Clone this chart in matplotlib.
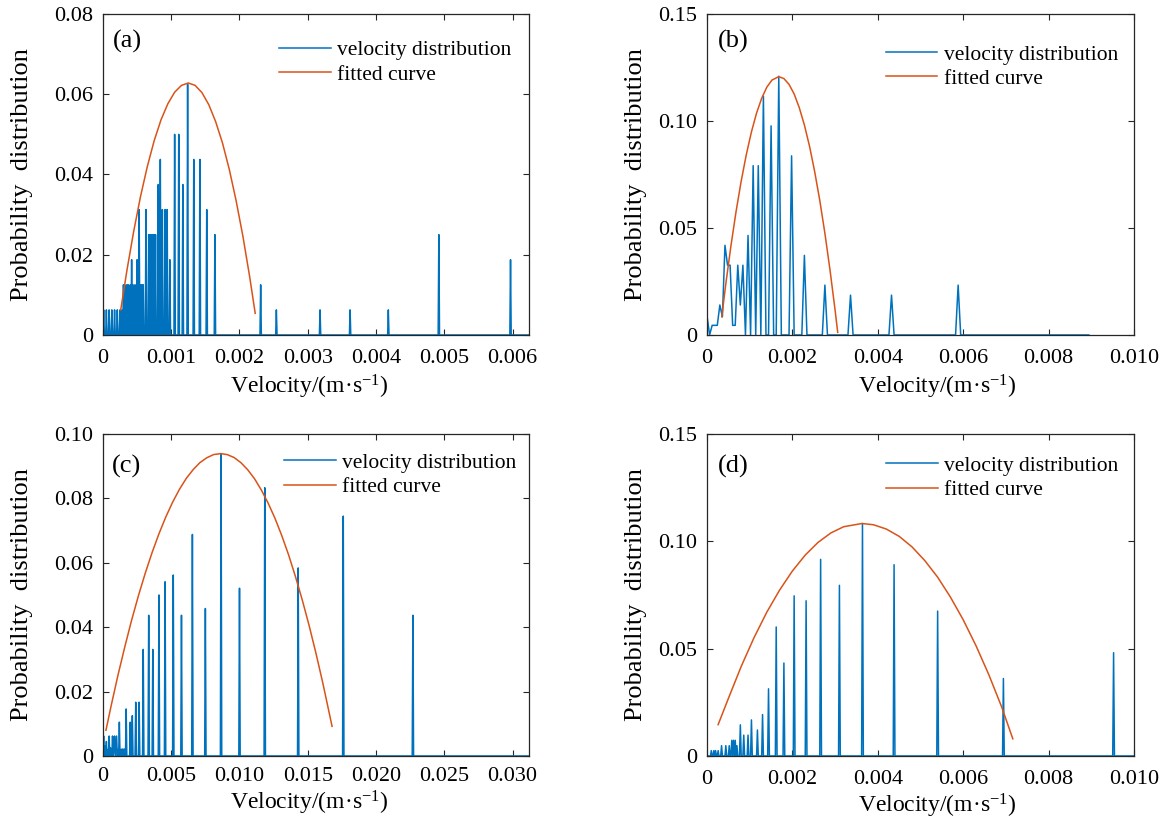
import numpy as np
import matplotlib
matplotlib.use('Agg')
import matplotlib.pyplot as plt

plt.rcParams['font.family'] = ['Liberation Serif', 'DejaVu Serif']
plt.rcParams['mathtext.fontset'] = 'custom'
plt.rcParams['mathtext.rm'] = 'Liberation Serif'
plt.rcParams['mathtext.it'] = 'Liberation Serif:italic'

BLUE = '#0072BD'
ORANGE = '#D95319'
AXC = '#262626'

# ---- panel (a) ----
vel_a = [0.00001, 0.00005, 0.00009, 0.00013, 0.00017, 0.00021, 0.00025, 0.00028,
         0.00030, 0.00032, 0.00035, 0.00037, 0.00040, 0.00042, 0.00044, 0.00047,
         0.00050, 0.00053, 0.00055, 0.00057, 0.00059, 0.00063, 0.00067, 0.00069,
         0.00071, 0.00073, 0.00075, 0.00077, 0.00081, 0.00084, 0.00087, 0.00091,
         0.00094, 0.00098, 0.00105, 0.00111, 0.00117, 0.00124, 0.00133, 0.00142,
         0.00152, 0.00164, 0.00231, 0.00254, 0.00318, 0.00362, 0.00418, 0.00492,
         0.00597]
prob_a = [0.00625, 0.00625, 0.00625, 0.00625, 0.00625, 0.00625, 0.00625, 0.00625,
          0.0125, 0.0125, 0.0125, 0.0125, 0.0125, 0.01875, 0.0125, 0.0125,
          0.01875, 0.03125, 0.0125, 0.0125, 0.0125, 0.03125, 0.025, 0.025,
          0.025, 0.025, 0.025, 0.025, 0.0375, 0.04375, 0.03125, 0.03125,
          0.03125, 0.01875, 0.05, 0.05, 0.0375, 0.0625, 0.04375, 0.04375,
          0.03125, 0.025, 0.0125, 0.00625, 0.00625, 0.00625, 0.00625, 0.025,
          0.01875]
fit_v_a = [0.00026, 0.00035, 0.00045, 0.00055, 0.00065, 0.00075, 0.00085, 0.00095,
           0.00105, 0.00115, 0.00125, 0.00135, 0.00145, 0.00155, 0.00165, 0.00175,
           0.00185, 0.00195, 0.00205, 0.00215, 0.00223]
fit_p_a = [0.0062, 0.0160, 0.0258, 0.0345, 0.0420, 0.0484, 0.0536, 0.0576,
           0.0605, 0.0622, 0.0628, 0.0622, 0.0604, 0.0574, 0.0532, 0.0479,
           0.0413, 0.0335, 0.0246, 0.0144, 0.0054]

# ---- panel (b) ----
vel_b = [0.0, 0.00012, 0.00018, 0.00024, 0.00030, 0.00036, 0.00042, 0.00048,
         0.00054, 0.00060, 0.00066, 0.00072, 0.00078, 0.00084, 0.00096, 0.00108,
         0.00120, 0.00132, 0.00150, 0.00168, 0.00198, 0.00228, 0.00276, 0.00336,
         0.00432, 0.00588]
prob_b = [0.0089, 0.0045, 0.0045, 0.0045, 0.0140, 0.0085, 0.0419, 0.0326,
          0.0326, 0.0045, 0.0045, 0.0326, 0.0140, 0.0326, 0.0465, 0.0791,
          0.0791, 0.1116, 0.0977, 0.1209, 0.0837, 0.0372, 0.0233, 0.0186,
          0.0186, 0.0233]
fit_v_b = [0.000345, 0.00044, 0.00056, 0.00068, 0.0008, 0.00092, 0.00104, 0.00116,
           0.00128, 0.0014, 0.00152, 0.00168, 0.0018, 0.00192, 0.00204, 0.00216,
           0.00228, 0.0024, 0.00252, 0.00264, 0.00276, 0.00288, 0.003, 0.00306]
fit_p_b = [0.0085, 0.0239, 0.0417, 0.0577, 0.0719, 0.0843, 0.0949, 0.1037,
           0.1106, 0.1158, 0.1191, 0.1207, 0.1198, 0.1171, 0.1126, 0.1062,
           0.0981, 0.0882, 0.0764, 0.0629, 0.0475, 0.0303, 0.0114, 0.0012]

# ---- panel (c) ----
vel_c = [0.00005, 0.00015, 0.00025, 0.00035, 0.00045, 0.00055, 0.00070, 0.00080,
         0.00085, 0.00095, 0.00100, 0.00110, 0.00120, 0.00130, 0.00140, 0.00150,
         0.00155, 0.00170, 0.00200, 0.00215, 0.00240, 0.00265, 0.00295, 0.00335,
         0.00365, 0.00410, 0.00455, 0.00515, 0.00575, 0.00655, 0.00750, 0.00865,
         0.01000, 0.01185, 0.01430, 0.01760, 0.02270]
prob_c = [0.0062, 0.0030, 0.0045, 0.0020, 0.0062, 0.0025, 0.0062, 0.0020,
          0.0062, 0.0030, 0.0062, 0.0020, 0.0105, 0.0020, 0.0022, 0.0018,
          0.0022, 0.0146, 0.0105, 0.0125, 0.0167, 0.0167, 0.0331, 0.0437,
          0.0331, 0.0500, 0.0541, 0.0562, 0.0437, 0.0688, 0.0458, 0.0939,
          0.0521, 0.0833, 0.0584, 0.0745, 0.0437]
fit_v_c = [0.00022, 0.0006, 0.0011, 0.0016, 0.0021, 0.0026, 0.0031, 0.0036,
           0.0041, 0.0046, 0.0051, 0.0056, 0.0061, 0.0066, 0.0071, 0.0076,
           0.0081, 0.00862, 0.0091, 0.0096, 0.0101, 0.0106, 0.0111, 0.0116,
           0.0121, 0.0126, 0.0131, 0.0136, 0.0141, 0.0146, 0.0151, 0.0156,
           0.0161, 0.01678]
fit_p_c = [0.0080, 0.0156, 0.0251, 0.0339, 0.0422, 0.0498, 0.0568, 0.0632,
           0.0690, 0.0742, 0.0788, 0.0828, 0.0862, 0.0889, 0.0911, 0.0926,
           0.0936, 0.0939, 0.0936, 0.0927, 0.0911, 0.0889, 0.0861, 0.0826,
           0.0785, 0.0738, 0.0684, 0.0624, 0.0557, 0.0484, 0.0405, 0.0319,
           0.0227, 0.0092]

# ---- panel (d) ----
vel_d = [0.00010, 0.00016, 0.00020, 0.00026, 0.00034, 0.00044, 0.00052, 0.00058,
         0.00062, 0.00066, 0.00070, 0.00078, 0.00086, 0.00096, 0.00104, 0.00118,
         0.00130, 0.00144, 0.00162, 0.00180, 0.00204, 0.00232, 0.00266, 0.00310,
         0.00364, 0.00438, 0.00540, 0.00694, 0.00952]
prob_d = [0.0025, 0.0025, 0.0025, 0.0025, 0.0048, 0.0048, 0.0048, 0.0073,
          0.0073, 0.0073, 0.0048, 0.0145, 0.0097, 0.0097, 0.0168, 0.0121,
          0.0193, 0.0313, 0.0601, 0.0433, 0.0746, 0.0723, 0.0916, 0.0795,
          0.1083, 0.0891, 0.0675, 0.0361, 0.0481]
fit_v_d = [0.00026, 0.0005, 0.0008, 0.0011, 0.0014, 0.0017, 0.002, 0.0023,
           0.0026, 0.0029, 0.0032, 0.00363, 0.0039, 0.0042, 0.0045, 0.0048,
           0.0051, 0.0054, 0.0057, 0.006, 0.0063, 0.0066, 0.0069, 0.00716]
fit_p_d = [0.0146, 0.0268, 0.0417, 0.0551, 0.0670, 0.0773, 0.0862, 0.0936,
           0.0995, 0.1039, 0.1068, 0.1083, 0.1077, 0.1057, 0.1023, 0.0974,
           0.0910, 0.0833, 0.0740, 0.0634, 0.0513, 0.0378, 0.0228, 0.0080]

xt_a = [0, 0.001, 0.002, 0.003, 0.004, 0.005, 0.006]
xl_a = ['0', '0.001', '0.002', '0.003', '0.004', '0.005', '0.006']
yt_a = [0, 0.02, 0.04, 0.06, 0.08]
yl_a = ['0', '0.02', '0.04', '0.06', '0.08']
xt_b = [0, 0.002, 0.004, 0.006, 0.008, 0.010]
xl_b = ['0', '0.002', '0.004', '0.006', '0.008', '0.010']
yt_b = [0, 0.05, 0.10, 0.15]
yl_b = ['0', '0.05', '0.10', '0.15']
xt_c = [0, 0.005, 0.010, 0.015, 0.020, 0.025, 0.030]
xl_c = ['0', '0.005', '0.010', '0.015', '0.020', '0.025', '0.030']
yt_c = [0, 0.02, 0.04, 0.06, 0.08, 0.10]
yl_c = ['0', '0.02', '0.04', '0.06', '0.08', '0.10']


def spikes(vel, prob, bw, vmax):
    # probability per velocity bin, zero where nothing was counted
    n = int(round(vmax / bw)) + 1
    grid = np.arange(n) * bw
    hist = np.zeros(n)
    hist[np.rint(np.array(vel) / bw).astype(int)] = prob
    return grid, hist


def panel(ax, grid, hist, fv, fp, xlim, xt, xl, ylim, yt, yl, tag,
          leg_xy, tag_xy, ylab_x, xlab_xy, xpad=10):
    ax.plot(grid, hist, color=BLUE, lw=1.1, label='velocity distribution')
    ax.plot(fv, fp, color=ORANGE, lw=1.1, label='fitted curve')
    ax.set_xlim(*xlim)
    ax.set_ylim(*ylim)
    ax.set_xticks(xt, xl)
    ax.set_yticks(yt, yl)
    ax.tick_params(direction='in', top=True, right=True, length=4, width=0.8,
                   labelsize=16, color=AXC)
    ax.tick_params(axis='x', pad=xpad)
    ax.tick_params(axis='y', pad=7)
    for s in ax.spines.values():
        s.set_color(AXC)
        s.set_linewidth(0.9)
    ax.set_ylabel('Probability  distribution', fontsize=19)
    ax.yaxis.set_label_coords(ylab_x, 0.5)
    ax.set_xlabel('Velocity/(m·s$^{-1}$)', fontsize=17)
    ax.xaxis.set_label_coords(*xlab_xy)
    ax.legend(loc='upper left', bbox_to_anchor=leg_xy, frameon=False,
              fontsize=15.5, handlelength=2.4, handletextpad=0.3,
              labelspacing=0.2, borderpad=0, borderaxespad=0)
    ax.text(tag_xy[0], tag_xy[1], tag, transform=ax.transAxes,
            fontsize=19, ha='left', va='center')


fig = plt.figure(figsize=(11.7, 8.21), dpi=100)
ax_a = fig.add_axes([0.0880, 0.5920, 0.3641, 0.3910])
ax_b = fig.add_axes([0.6043, 0.5920, 0.3650, 0.3910])
ax_c = fig.add_axes([0.0880, 0.0792, 0.3641, 0.3922])
ax_d = fig.add_axes([0.6043, 0.0792, 0.3650, 0.3922])

g, h = spikes(vel_a, prob_a, 0.00001, 0.00624)
panel(ax_a, g, h, fit_v_a, fit_p_a, (0, 0.00624), xt_a, xl_a, (0, 0.08),
      yt_a, yl_a, '(a)', (0.413, 0.918), (0.023, 0.913), -0.165, (0.484, -0.118))

g, h = spikes(vel_b, prob_b, 0.00006, 0.00894)
panel(ax_b, g, h, fit_v_b, fit_p_b, (0, 0.010), xt_b, xl_b, (0, 0.15),
      yt_b, yl_b, '(b)', (0.418, 0.905), (0.026, 0.913), -0.14, (0.539, -0.118))

g, h = spikes(vel_c, prob_c, 0.00005, 0.0312)
panel(ax_c, g, h, fit_v_c, fit_p_c, (0, 0.0312), xt_c, xl_c, (0, 0.10),
      yt_c, yl_c, '(c)', (0.425, 0.942), (0.021, 0.898), -0.165, (0.484, -0.102),
      xpad=8)

g, h = spikes(vel_d, prob_d, 0.00002, 0.010)
panel(ax_d, g, h, fit_v_d, fit_p_d, (0, 0.010), xt_b, xl_b, (0, 0.15),
      yt_b, yl_b, '(d)', (0.419, 0.932), (0.026, 0.898), -0.14, (0.539, -0.11))

fig.savefig('out.png', dpi=100)
